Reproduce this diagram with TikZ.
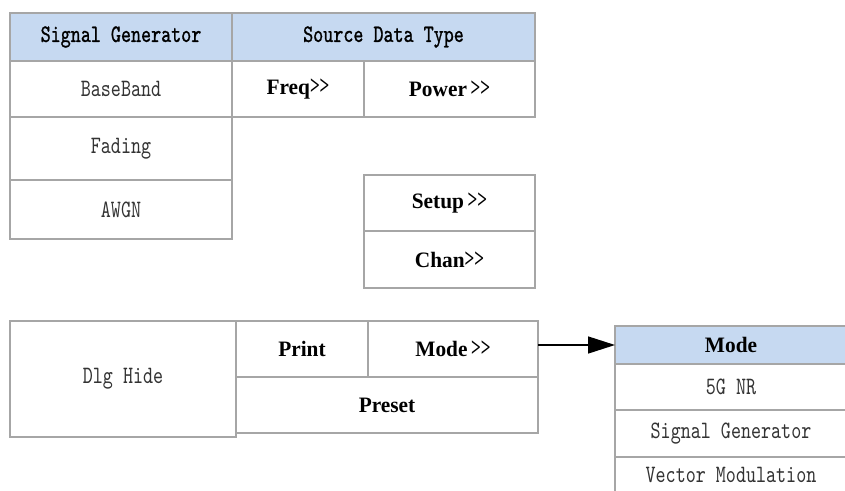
\documentclass[tikz,border=0pt]{standalone}
\usepackage{fontspec}
\usetikzlibrary{arrows.meta}
\newfontfamily\cellfont{lmmono10-regular.otf}[FakeStretch=0.765]
\newfontfamily\headfont{lmmono10-regular.otf}[FakeStretch=0.765,FakeBold=1]
\newfontfamily\keyfont{Liberation Serif}[FakeStretch=0.97]
\newcommand\chev{\scalebox{0.8}[1.22]{>>}}
\definecolor{hdrblue}{HTML}{C6D9F1}
\definecolor{edge}{HTML}{A6A6A6}
\definecolor{txt}{HTML}{333333}
\tikzset{
  cell/.style={draw=edge, line width=1.5pt, fill=white, anchor=north west,
    inner sep=0pt, outer sep=0pt, text=txt,
    font=\cellfont\fontsize{25}{25}\selectfont},
  hdr/.style={cell, fill=hdrblue, text=black,
    font=\headfont\fontsize{25}{25}\selectfont},
  keycell/.style={cell, text=black,
    font=\keyfont\bfseries\fontsize{22}{22}\selectfont},
  keyhdr/.style={keycell, fill=hdrblue},
  link/.style={line width=1.5pt, draw=black, -{Triangle[length=27pt,width=17pt]}}
}
\begin{document}
\begin{tikzpicture}[x=1pt,y=-1pt]
\useasboundingbox (0,0) rectangle (845,490);
\clip (0,0) rectangle (845,490);
% top-left table
\node[hdr, minimum width=222pt, minimum height=48pt] (sg) at (10,13) {Signal Generator};
\node[hdr, minimum width=303pt, minimum height=48pt] (sdt) at (232,13) {Source Data Type};
\node[cell, minimum width=222pt, minimum height=56pt] (bb) at (10,61) {BaseBand};
\node[keycell, minimum width=132pt, minimum height=56pt] (freq) at (232,61) {Freq\chev};
\node[keycell, minimum width=171pt, minimum height=56pt] (pow) at (364,61) {Power\,\chev};
\node[cell, minimum width=222pt, minimum height=63pt] (fad) at (10,117) {Fading};
\node[cell, minimum width=222pt, minimum height=59pt] (awgn) at (10,180) {AWGN};
% setup / chan
\node[keycell, minimum width=171pt, minimum height=56pt] (setup) at (364,175) {Setup\,\chev};
\node[keycell, minimum width=171pt, minimum height=57pt] (chan) at (364,231) {Chan\chev};
% bottom-left table
\node[cell, minimum width=226pt, minimum height=116pt] (dlg) at (10,321) {Dlg Hide};
\node[keycell, minimum width=132pt, minimum height=56pt] (print) at (236,321) {Print};
\node[keycell, minimum width=170pt, minimum height=56pt] (mode) at (368,321) {Mode\,\chev};
\node[keycell, minimum width=302pt, minimum height=56pt] (preset) at (236,377) {Preset};
% mode menu
\node[keyhdr, minimum width=232pt, minimum height=38pt] (modeh) at (615,326) {Mode};
\node[cell, minimum width=232pt, minimum height=46pt] (nr) at (615,364) {5G NR};
\node[cell, minimum width=232pt, minimum height=47pt] (sg2) at (615,410) {Signal Generator};
\node[cell, minimum width=232pt, minimum height=36pt] (vm) at (615,457) {Vector Modulation};
% connector
\draw[link] (mode.east |- modeh.west) -- (modeh.west);
\end{tikzpicture}
\end{document}
